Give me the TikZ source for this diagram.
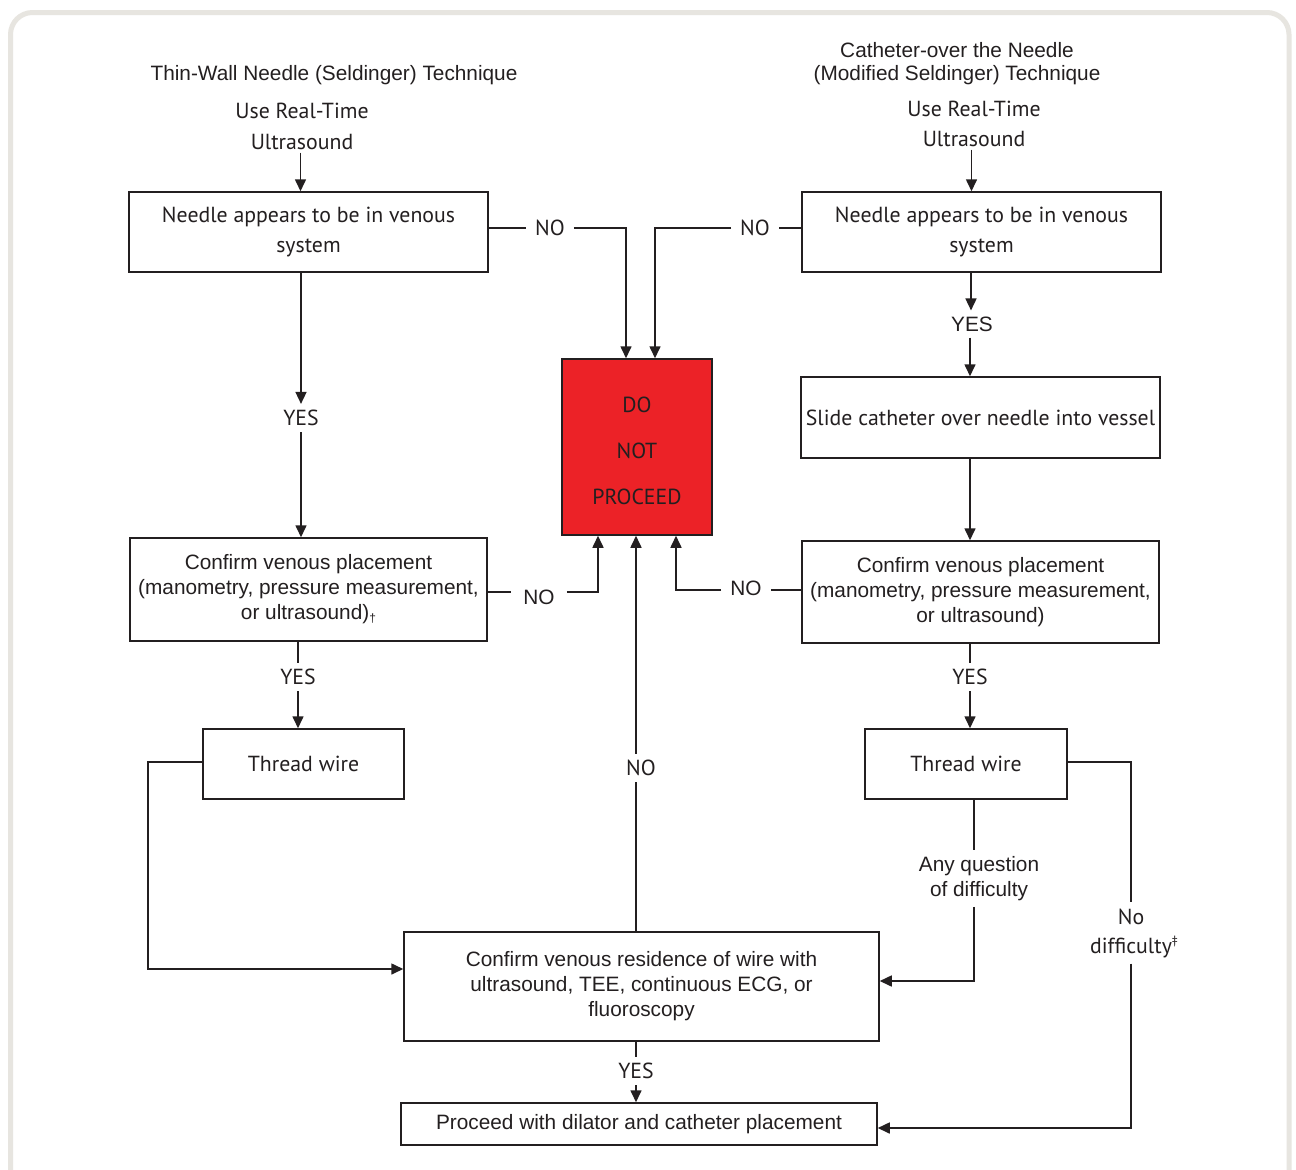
\documentclass[tikz,border=0pt]{standalone}
\usepackage{fontspec}
\setmainfont{Liberation Sans}
\newfontfamily\myr{PT Sans}
\newfontfamily\ari{Liberation Sans}
\usetikzlibrary{arrows.meta}
\definecolor{ink}{HTML}{231F20}
\definecolor{stopred}{HTML}{EC2227}
\definecolor{framegray}{HTML}{E7E5E0}
\tikzset{
  box/.style={draw=ink, line width=1.5pt, fill=white, inner sep=4pt, align=center, text=ink},
  myrtext/.style={font=\myr\fontsize{21.8}{30}\selectfont},
  aritext/.style={font=\ari\fontsize{20.8}{25}\selectfont},
  lbl/.style={inner sep=3pt, align=center, text=ink},
  nolbl/.style={lbl, inner xsep=9pt},
  conn/.style={draw=ink, line width=1.6pt},
  arr/.style={conn, -{Triangle[length=12pt,width=11pt]}},
}
\begin{document}
\begin{tikzpicture}[x=1pt,y=-1pt]
\clip (0,0) rectangle (1296,1170);
\useasboundingbox (0,0) rectangle (1296,1170);
\fill[white] (0,0) rectangle (1296,1170);
\draw[framegray, line width=5pt, rounded corners=22pt] (10.5,12.5) rectangle (1289,1260);

% titles
\node[lbl, aritext] (tl) at (334,75) {Thin-Wall Needle (Seldinger) Technique};
\node[lbl, font=\ari\fontsize{20.8}{23}\selectfont] (tr) at (957,63.5) {Catheter-over the Needle\\(Modified Seldinger) Technique};
\node[lbl, font=\myr\fontsize{21.8}{31}\selectfont] (ual) at (302,126) {Use Real-Time\\Ultrasound};
\node[lbl, font=\myr\fontsize{21.8}{30}\selectfont] (uar) at (974,123.5) {Use Real-Time\\Ultrasound};

% boxes
\node[box, myrtext, minimum width=359pt, minimum height=80pt] (L1) at (308.5,232) {Needle appears to be in venous\\system};
\node[box, myrtext, minimum width=359pt, minimum height=80pt] (R1) at (981.5,232) {Needle appears to be in venous\\system};
\node[box, fill=stopred, minimum width=150pt, minimum height=176pt] (DNP) at (637,447) {};
\node[lbl, align=center, font=\myr\fontsize{21.8}{46}\selectfont] (DNPtext) at ([yshift=-4pt]DNP.center) {DO\\NOT\\PROCEED};
\node[box, myrtext, minimum width=359pt, minimum height=81pt] (R2) at (980.5,417.5) {Slide catheter over needle into vessel};
\node[box, aritext, minimum width=357pt, minimum height=103pt] (L2) at (308.5,589.5) {Confirm venous placement\\(manometry, pressure measurement,\\or ultrasound)\raisebox{-3pt}{\fontsize{12}{12}\selectfont †}};
\node[box, aritext, minimum width=357pt, minimum height=102pt] (R3) at (980.5,592) {Confirm venous placement\\(manometry, pressure measurement,\\or ultrasound)};
\node[box, myrtext, minimum width=201pt, minimum height=70pt] (L3) at (303.5,764) {Thread wire};
\node[box, myrtext, minimum width=202pt, minimum height=70pt] (R4) at (966,764) {Thread wire};
\node[box, aritext, minimum width=475pt, minimum height=109pt] (B1) at (641.5,986.5) {Confirm venous residence of wire with\\ultrasound, TEE, continuous ECG, or\\fluoroscopy};
\node[box, aritext, minimum width=476pt, minimum height=42pt] (B2) at (639,1124) {Proceed with dilator and catheter placement};

% labels
\node[nolbl, myrtext] (noA) at (550,228) {NO};
\node[nolbl, myrtext] (noB) at (755,228) {NO};
\node[nolbl, aritext, inner xsep=12pt] (noC) at (539,597) {NO};
\node[nolbl, aritext] (noD) at (746,588) {NO};
\node[lbl, myrtext, inner sep=6pt] (noE) at (641,768) {NO};
\node[lbl, myrtext, inner sep=6pt] (yesA) at (301,418) {YES};
\node[lbl, aritext, inner sep=6pt] (yesB) at (972,324) {YES};
\node[lbl, myrtext, inner sep=6pt] (yesC) at (298,677) {YES};
\node[lbl, myrtext, inner sep=6pt] (yesD) at (970,677) {YES};
\node[lbl, myrtext, inner sep=6pt] (yesE) at (636,1071) {YES};
\node[lbl, font=\ari\fontsize{20.8}{25}\selectfont, inner sep=6pt] (q) at (979,878.5) {Any question\\of difficulty};
\node[lbl, font=\myr\fontsize{21.8}{29}\selectfont, inner sep=6pt] (nd) at (1131,933) {No\\difficulty\rlap{\raisebox{9pt}{\fontsize{12}{12}\selectfont ‡}}};

\coordinate (lft) at (148,969);
\coordinate (qc) at (974,981);
\coordinate (nr) at (1131,762);
\coordinate (nb) at (1131,1128);
\coordinate (mid) at (636,768);

% connectors
\draw[arr] (ual.south -| L1.north) ++(-8,0) coordinate (t1) -- (t1 |- L1.north);
\draw[arr] ([xshift=-10pt]uar.south -| R1.north) coordinate (t2) -- (t2 |- R1.north);

\draw[conn] (L1.east |- noA) -- (noA.west);
\draw[arr] (noA.east) -| ([xshift=-11pt]DNP.north);
\draw[conn] (R1.west |- noB) -- (noB.east);
\draw[arr] (noB.west) -| ([xshift=18pt]DNP.north);

\draw[arr] (yesA |- L1.south) -- (yesA.north);
\draw[arr] (yesA.south) -- (yesA |- L2.north);

\draw[arr] ([xshift=-1pt]yesB |- R1.south) -- ([xshift=-1pt]yesB.north);
\draw[arr] ([xshift=-2pt]yesB.south) -- ([xshift=-2pt]yesB |- R2.north);
\draw[arr] ([xshift=-2pt]yesB |- R2.south) -- ([xshift=-2pt]yesB |- R3.north);

\draw[conn] (L2.east |- noC.west) ++(0,-5) coordinate (c1) -- ([yshift=5pt]noC.west);
\draw[arr] ([yshift=5pt]noC.east) -| ([xshift=-39pt]DNP.south);
\draw[conn] (R3.west |- noD) ++(0,2) coordinate (c2) -- ([yshift=-2pt]noD.east);
\draw[arr] ([yshift=-2pt]noD.west) -| ([xshift=39pt]DNP.south);

\draw[conn] (mid |- B1.north) -- (mid |- noE.south);
\draw[arr] (mid |- noE.north) -- (mid |- DNP.south);

\draw[conn] (yesC |- L2.south) -- (yesC.north);
\draw[arr] (yesC.south) -- (yesC |- L3.north);
\draw[conn] (yesD |- R3.south) -- (yesD.north);
\draw[arr] (yesD.south) -- (yesD |- R4.north);

\draw[arr] (L3.west |- nr) -| (lft) -- (B1.west |- lft);

\draw[conn] (qc |- R4.south) -- (qc |- q.north);
\draw[arr] (qc |- q.south) -- (qc) -- (B1.east |- qc);

\draw[conn] (R4.east |- nr) -- (nr) -- (nr |- nd.north);
\draw[arr] (nb |- nd.south) -- (nb) -- (B2.east |- nb);

\draw[conn] (yesE |- B1.south) -- (yesE.north);
\draw[arr] (yesE.south) -- (yesE |- B2.north);
\end{tikzpicture}
\end{document}
